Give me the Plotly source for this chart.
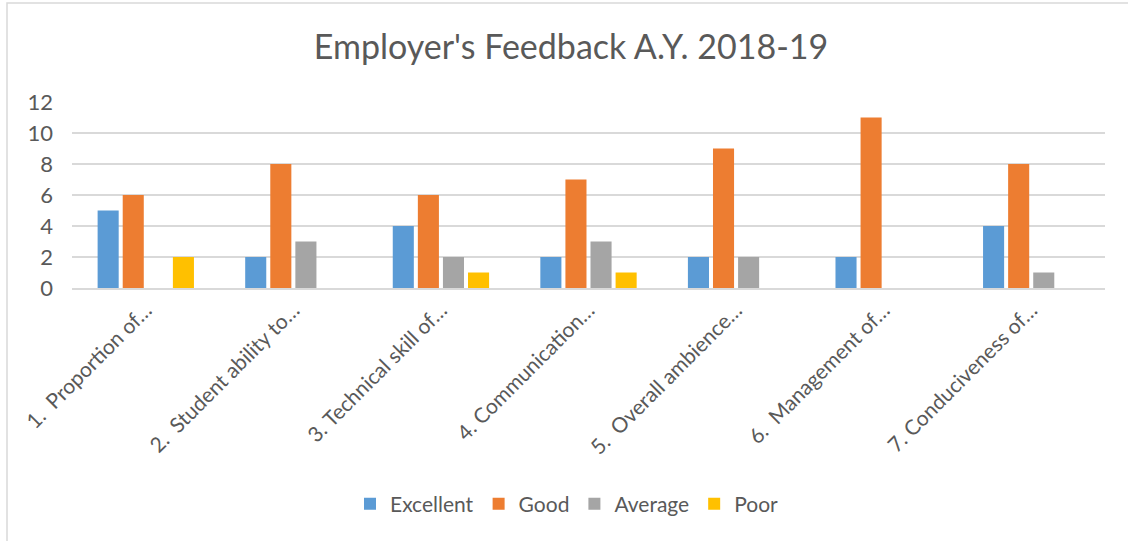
import plotly.graph_objects as go

categories = ["1.\u00a0 Proportion of…", "2.\u00a0 Student ability to…", "3. Technical skill of…",
              "4. Communication…", "5.\u00a0 Overall ambience…", "6.\u00a0 Management of…",
              "7. Conduciveness of…"]
excellent = [5, 2, 4, 2, 2, 2, 4]
good = [6, 8, 6, 7, 9, 11, 8]
average = [0, 3, 2, 3, 2, 0, 1]
poor = [2, 0, 1, 1, 0, 0, 0]

series = [("Excellent", excellent, "#5B9BD5"), ("Good", good, "#ED7D31"),
          ("Average", average, "#A5A5A5"), ("Poor", poor, "#FFC000")]

fig = go.Figure()
for name, vals, col in series:
    fig.add_trace(go.Bar(x=categories, y=vals, name=name, marker_color=col,
                         marker_line_width=0))

FONT = "Lato, Open Sans, sans-serif"
W, H = 1128, 541
L, R, T, B = 72, 23, 102, 253
PH = H - T - B
PW = W - L - R
fig.update_layout(
    width=W, height=H,
    paper_bgcolor="white", plot_bgcolor="white",
    margin=dict(l=L, r=R, t=T, b=B),
    title=dict(text="Employer's Feedback A.Y. 2018-19", x=571 / W, xanchor="center",
               y=1 - 47 / H, yanchor="middle", yref="container",
               font=dict(family=FONT, size=34, color="#595959")),
    barmode="group", bargap=0.32, bargroupgap=0.16,
    font=dict(family=FONT, size=21, color="#595959"),
    legend=dict(orientation="h", x=(567 - L) / PW, xanchor="center",
                y=-(504 - (H - B)) / PH, yanchor="middle",
                font=dict(family=FONT, size=21, color="#595959"),
                itemwidth=30, traceorder="normal"),
    xaxis=dict(tickangle=-45, showgrid=False, showline=True, linecolor="#D9D9D9",
               linewidth=1.5, ticks="", tickfont=dict(size=21, color="#595959")),
    yaxis=dict(range=[0, 12], dtick=2, showgrid=True, gridcolor="#D9D9D9", gridwidth=1.5,
               zeroline=False, showline=False, ticks="", ticklabelstandoff=18,
               tickfont=dict(size=22, color="#595959")),
    shapes=[dict(type="rect", xref="paper", yref="paper",
                 x0=(7 - L) / PW, x1=1.2, y0=-3, y1=(H - B - 3) / PH,
                 line=dict(color="#D9D9D9", width=1.5), fillcolor="rgba(0,0,0,0)")],
)
fig.write_html("out.html", config={"displayModeBar": False},
               post_script="document.body.style.margin='0';document.body.style.overflow='hidden';")
